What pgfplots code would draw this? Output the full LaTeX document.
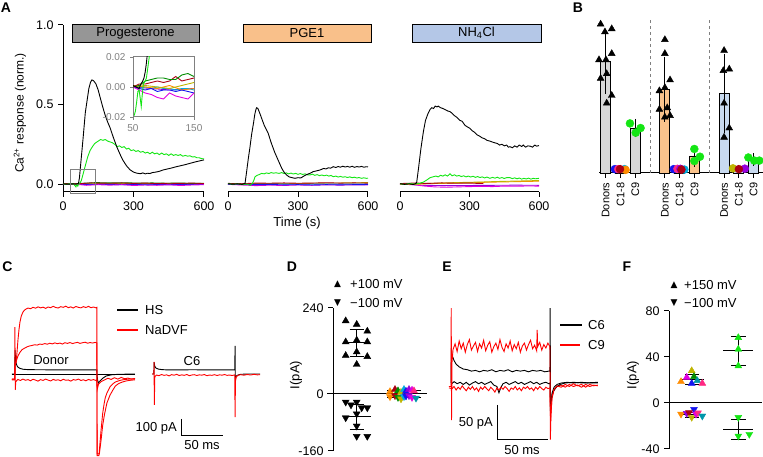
\documentclass[border=0pt]{standalone}
\usepackage{fontspec}
\setmainfont{Liberation Sans}
\newfontfamily\sym{DejaVu Sans}
\usepackage{pgfplots}
\pgfplotsset{compat=1.18}
\definecolor{lime}{RGB}{20,230,20}
\definecolor{dkgreen}{RGB}{0,140,0}
\definecolor{dkred}{RGB}{170,0,20}
\definecolor{mag}{RGB}{225,0,225}
\definecolor{purp}{RGB}{150,0,220}
\definecolor{cblue}{RGB}{20,20,240}
\definecolor{ccyan}{RGB}{0,170,220}
\definecolor{corange}{RGB}{255,140,0}
\definecolor{olive2}{RGB}{190,180,0}
\definecolor{pink2}{RGB}{255,40,130}
\definecolor{teal2}{RGB}{0,150,170}
\definecolor{boxgray}{RGB}{150,150,150}
\definecolor{boxorange}{RGB}{249,192,138}
\definecolor{boxblue}{RGB}{180,199,231}
\definecolor{bargray}{RGB}{215,215,215}
\definecolor{barorange}{RGB}{250,195,140}
\definecolor{barblue}{RGB}{200,218,240}
\pgfplotsset{
  every axis/.append style={scale only axis, anchor=south west, clip=false,
    axis line style={-, line width=1pt},
    tick style={line width=1pt, black},
    tick align=outside, major tick length=5pt,
    tick label style={font=\fontsize{12.5}{14}\selectfont},
    /pgf/number format/assume math mode=true},
  tr/.style={line width=0.9pt, mark=none},
  up/.style={only marks, mark=triangle*, mark size=4pt},
  dn/.style={only marks, mark=triangle*, mark size=4pt, mark options={rotate=180}},
  dot/.style={only marks, mark=*, mark size=4pt},
  eb/.style={black, line width=1pt, mark=none},
}
\begin{document}
\fontsize{13}{15}\selectfont
\begin{tikzpicture}
% ================= A1 =================
\begin{axis}[at={(63pt,265pt)}, width=141pt, height=167pt,
  xmin=0, xmax=600, ymin=-0.05, ymax=1,
  axis x line*=bottom, axis y line*=left, xtick pos=left, ytick pos=left,
  xtick={0,300,600}, ytick={0,0.5,1},
  yticklabel style={/pgf/number format/fixed, /pgf/number format/fixed zerofill, /pgf/number format/precision=1}]
\addplot[tr, olive2] coordinates {(0,0) (90,0) (150,0.003) (210,0.002) (270,0.004) (330,0.002) (390,0.003) (450,0.001) (510,0.003) (600,0.002)};
\addplot[tr, corange] coordinates {(0,0.001) (70,0) (130,-0.002) (190,0.001) (250,-0.001) (310,0.002) (370,0) (430,0.001) (490,-0.001) (550,0.001) (600,0)};
\addplot[tr, ccyan] coordinates {(0,0.001) (60,-0.001) (120,-0.002) (180,0) (240,-0.002) (300,-0.001) (360,-0.003) (420,-0.001) (480,-0.002) (540,0) (600,-0.001)};
\addplot[tr, cblue] coordinates {(0,0) (70,-0.002) (120,-0.003) (180,-0.002) (240,-0.004) (300,-0.003) (360,-0.005) (420,-0.003) (480,-0.004) (540,-0.002) (600,-0.003)};
\addplot[tr, mag] coordinates {(0,0) (60,-0.002) (100,-0.008) (150,-0.004) (200,-0.007) (250,-0.004) (300,-0.009) (350,-0.006) (400,-0.008) (450,-0.005) (500,-0.009) (550,-0.006) (600,-0.004)};
\addplot[tr, dkgreen] coordinates {(0,0) (50,0) (70,0.004) (100,0.006) (140,0.009) (200,0.007) (260,0.008) (320,0.006) (380,0.007) (440,0.005) (500,0.006) (560,0.004) (600,0.005)};
\addplot[tr, dkred] coordinates {(0,0.003) (50,0.001) (70,0.002) (90,0.004) (120,0.007) (150,0.006) (200,0.005) (250,0.007) (300,0.004) (350,0.006) (400,0.003) (450,0.005) (500,0.004) (550,0.006) (600,0.003)};
\addplot[tr, lime] coordinates {(0,0.002) (15,-0.002) (30,0.003) (45,0.0) (55,-0.018) (58,-0.003) (63,-0.013) (67,0.002) (72,0.006) (78,0.022) (85,0.06) (94,0.11) (105,0.17) (115,0.21) (123,0.23) (135,0.255) (150,0.27) (160,0.28) (170,0.275) (180,0.28) (190,0.27) (200,0.265) (210,0.26) (220,0.25) (230,0.235) (240,0.24) (250,0.23) (260,0.235) (270,0.22) (280,0.225) (290,0.21) (300,0.215) (310,0.205) (320,0.21) (330,0.2) (340,0.205) (350,0.195) (360,0.2) (370,0.19) (380,0.2) (390,0.19) (400,0.195) (410,0.185) (420,0.195) (430,0.185) (440,0.19) (450,0.18) (460,0.19) (470,0.18) (480,0.185) (490,0.18) (500,0.185) (510,0.175) (520,0.18) (530,0.175) (540,0.178) (550,0.17) (560,0.172) (570,0.165) (580,0.165) (590,0.16) (600,0.158)};
\addplot[tr, black] coordinates {(0,0.001) (20,-0.001) (40,0.001) (55,0) (62,0.002) (66,0.005) (70,0.04) (75,0.12) (80,0.2) (85,0.28) (95,0.45) (103,0.53) (110,0.6) (117,0.64) (123,0.655) (130,0.65) (140,0.63) (150,0.59) (157,0.55) (170,0.48) (180,0.43) (190,0.39) (200,0.355) (215,0.29) (230,0.23) (245,0.18) (255,0.15) (270,0.115) (285,0.09) (300,0.075) (315,0.068) (330,0.065) (340,0.07) (350,0.064) (360,0.068) (370,0.066) (380,0.072) (395,0.075) (410,0.08) (425,0.088) (442,0.094) (460,0.1) (480,0.108) (500,0.115) (520,0.122) (540,0.13) (560,0.138) (580,0.145) (600,0.152)};
\draw[gray, line width=1pt] (axis cs:34,-0.057) rectangle (axis cs:140,0.094);
\end{axis}
% ================= inset =================
\begin{axis}[at={(133pt,340pt)}, width=61pt, height=60pt, clip=true,
  xmin=50, xmax=150, ymin=-0.02, ymax=0.02,
  axis line style={gray, line width=1pt}, tick style={gray, line width=0.8pt},
  major tick length=3pt, xtick pos=left, ytick pos=left,
  xtick={50,150}, ytick={-0.02,0,0.02}, scaled y ticks=false,
  tick label style={gray, font=\fontsize{10}{12}\selectfont},
  yticklabel style={/pgf/number format/fixed, /pgf/number format/fixed zerofill, /pgf/number format/precision=2}]
\addplot[tr, purp] coordinates {(50,0) (80,-0.001) (110,-0.002) (150,-0.001)};
\addplot[tr, ccyan] coordinates {(50,0.001) (60,-0.001) (70,0) (80,-0.001) (90,0) (100,-0.001) (110,-0.001) (120,-0.002) (130,-0.001) (140,-0.001) (150,-0.002)};
\addplot[tr, corange] coordinates {(50,0.001) (70,0.0) (90,-0.001) (110,0.001) (130,-0.002) (150,-0.001)};
\addplot[tr, olive2] coordinates {(50,0) (70,0.001) (90,0.0) (110,-0.001) (130,0.001) (150,0.003)};
\addplot[tr, cblue] coordinates {(50,0) (60,-0.001) (70,-0.002) (80,-0.001) (90,-0.003) (100,-0.002) (110,-0.002) (120,-0.003) (130,-0.002) (140,-0.003) (150,-0.004)};
\addplot[tr, mag] coordinates {(50,0) (60,-0.002) (70,-0.004) (80,-0.005) (90,-0.007) (100,-0.008) (110,-0.004) (120,-0.006) (130,-0.007) (140,-0.008) (150,-0.004)};
\addplot[tr, dkred] coordinates {(50,0) (60,0.002) (70,0.002) (80,0.003) (90,0.004) (100,0.003) (110,0.004) (120,0.007) (130,0.004) (140,0.005) (150,0.006)};
\addplot[tr, dkgreen] coordinates {(50,0) (60,0.001) (70,0.004) (80,0.005) (90,0.006) (100,0.006) (110,0.005) (120,0.005) (130,0.008) (140,0.009) (150,0.007)};
\addplot[tr, black] coordinates {(50,0.001) (55,0.0) (60,-0.001) (63,0.002) (66,0.004) (68,0.006) (70,0.01) (72,0.016) (74,0.024) (76,0.04)};
\addplot[tr, lime] coordinates {(52,-0.019) (54,-0.016) (56,-0.01) (58,-0.003) (60,-0.002) (62,-0.008) (63.5,-0.013) (65,-0.006) (67,0.002) (70,0.004) (72,0.006) (74,0.012) (76,0.018) (78,0.024) (80,0.032)};
\end{axis}
% ================= A2 =================
\begin{axis}[at={(228pt,265pt)}, width=140pt, height=167pt,
  xmin=0, xmax=600, ymin=-0.05, ymax=1,
  axis x line*=bottom, axis y line=none, xtick pos=left, ytick=\empty,
  xtick={0,300,600}]
\addplot[tr, olive2] coordinates {(0,0) (100,0.002) (200,0.004) (300,0.003) (400,0.006) (500,0.007) (600,0.009)};
\addplot[tr, ccyan] coordinates {(0,0.001) (100,-0.001) (200,0.001) (300,-0.002) (400,0) (500,-0.001) (600,0)};
\addplot[tr, mag] coordinates {(0,-0.002) (60,-0.006) (120,-0.01) (180,-0.007) (240,-0.009) (300,-0.006) (360,-0.008) (420,-0.005) (480,-0.007) (540,-0.005) (600,-0.006)};
\addplot[tr, cblue] coordinates {(0,0) (60,-0.002) (120,-0.004) (180,-0.003) (240,-0.005) (300,-0.004) (360,-0.006) (420,-0.004) (480,-0.005) (540,-0.004) (600,-0.003)};
\addplot[tr, dkred] coordinates {(0,0.004) (60,0.002) (120,0.006) (180,0.005) (240,0.007) (300,0.005) (360,0.006) (420,0.008) (480,0.006) (540,0.007) (600,0.006)};
\addplot[tr, lime] coordinates {(0,0.003) (20,-0.002) (40,0.002) (60,-0.004) (80,0.0) (95,-0.008) (105,0.005) (110,0.02) (116,0.046) (125,0.055) (135,0.06) (144,0.067) (155,0.064) (165,0.07) (175,0.066) (185,0.072) (195,0.068) (205,0.071) (219,0.067) (230,0.072) (240,0.066) (250,0.07) (260,0.064) (270,0.069) (279,0.063) (290,0.067) (300,0.061) (310,0.066) (320,0.06) (330,0.064) (341,0.058) (351,0.057) (362,0.062) (372,0.055) (382,0.059) (392,0.053) (402,0.057) (412,0.052) (422,0.056) (432,0.05) (442,0.054) (451,0.046) (462,0.05) (472,0.044) (482,0.048) (492,0.043) (502,0.046) (512,0.041) (522,0.045) (532,0.04) (542,0.043) (552,0.038) (562,0.041) (572,0.036) (582,0.039) (594,0.036) (600,0.037)};
\addplot[tr, black] coordinates {(0,0.002) (20,-0.001) (40,0.001) (60,-0.002) (70,0.002) (73,0.004) (80,0.08) (87,0.16) (94,0.23) (101,0.31) (109,0.38) (115,0.44) (120,0.47) (123,0.48) (128,0.475) (135,0.45) (145,0.41) (155,0.37) (165,0.34) (172,0.32) (185,0.26) (200,0.2) (215,0.15) (230,0.1) (240,0.075) (251,0.057) (262,0.045) (275,0.04) (287,0.036) (300,0.04) (312,0.038) (325,0.05) (335,0.058) (345,0.064) (351,0.067) (365,0.078) (380,0.083) (394,0.088) (410,0.098) (420,0.095) (430,0.102) (440,0.1) (451,0.109) (462,0.104) (472,0.11) (482,0.106) (492,0.112) (502,0.107) (512,0.111) (522,0.106) (532,0.112) (542,0.105) (552,0.11) (562,0.107) (572,0.111) (582,0.106) (594,0.109) (600,0.108)};
\end{axis}
% ================= A3 =================
\begin{axis}[at={(400pt,265pt)}, width=139pt, height=167pt,
  xmin=0, xmax=600, ymin=-0.05, ymax=1,
  axis x line*=bottom, axis y line=none, xtick pos=left, ytick=\empty,
  xtick={0,300,600}]
\addplot[tr, purp] coordinates {(0,0) (100,-0.008) (200,-0.01) (300,-0.009) (400,-0.008) (500,-0.007) (600,-0.008)};
\addplot[tr, mag] coordinates {(0,0.002) (60,-0.004) (100,-0.012) (150,-0.018) (200,-0.02) (250,-0.018) (300,-0.016) (350,-0.015) (400,-0.016) (450,-0.013) (500,-0.014) (550,-0.012) (600,-0.013)};
\addplot[tr, corange] coordinates {(0,0) (60,-0.002) (120,0.002) (200,0.005) (300,0.009) (400,0.012) (500,0.015) (600,0.018)};
\addplot[tr, olive2] coordinates {(0,0.002) (60,0.0) (120,0.004) (180,0.006) (240,0.009) (300,0.011) (360,0.013) (420,0.016) (480,0.018) (540,0.02) (600,0.022)};
\addplot[tr, dkred] coordinates {(0,0.003) (60,0.006) (120,0.004) (180,0.007) (240,0.005) (300,0.006) (360,0.003)};
\addplot[tr, lime] coordinates {(0,0.002) (20,-0.003) (40,0.004) (60,0.0) (80,0.003) (90,0.008) (101,0.012) (115,0.025) (130,0.04) (144,0.046) (155,0.05) (165,0.045) (175,0.055) (185,0.05) (195,0.058) (205,0.05) (216,0.065) (225,0.052) (235,0.058) (245,0.05) (255,0.054) (265,0.047) (275,0.052) (285,0.045) (295,0.05) (305,0.044) (315,0.049) (325,0.042) (335,0.047) (345,0.041) (355,0.045) (365,0.038) (375,0.044) (388,0.036) (400,0.042) (410,0.037) (420,0.043) (430,0.036) (440,0.041) (450,0.035) (460,0.04) (475,0.04) (485,0.034) (495,0.039) (505,0.033) (515,0.038) (525,0.031) (535,0.036) (545,0.032) (555,0.037) (565,0.031) (575,0.036) (585,0.033) (600,0.036)};
\addplot[tr, black] coordinates {(0,0.002) (20,-0.002) (40,0.001) (55,-0.003) (65,0.0) (72,0.01) (80,0.1) (90,0.22) (101,0.33) (110,0.4) (120,0.44) (130,0.47) (137,0.48) (145,0.475) (152,0.49) (160,0.485) (165,0.49) (175,0.48) (185,0.475) (195,0.468) (205,0.46) (216,0.455) (225,0.445) (235,0.43) (245,0.42) (259,0.4) (268,0.395) (280,0.37) (290,0.36) (302,0.35) (312,0.335) (322,0.325) (332,0.31) (345,0.3) (355,0.29) (365,0.285) (375,0.275) (388,0.27) (395,0.266) (403,0.262) (412,0.258) (420,0.255) (430,0.245) (440,0.25) (450,0.24) (460,0.245) (468,0.232) (475,0.235) (485,0.228) (495,0.24) (505,0.232) (515,0.245) (525,0.236) (532,0.245) (542,0.232) (552,0.24) (562,0.238) (572,0.232) (582,0.245) (590,0.238) (600,0.242)};
\end{axis}
% ================= B =================
\begin{axis}[at={(599pt,284pt)}, width=164pt, height=155pt,
  xmin=-0.45, xmax=10.63, ymin=0, ymax=1,
  axis x line*=bottom, axis y line=none, xtick pos=left, ytick=\empty,
  xtick={0,1,2,4,5,6,8,9,10},
  xticklabels={Donors,C1-8,C9,Donors,C1-8,C9,Donors,C1-8,C9},
  xticklabel style={rotate=90, anchor=east, font=\fontsize{11}{13}\selectfont}]
\addplot[gray, dashed, line width=0.8pt] coordinates {(3,0) (3,1)};
\addplot[gray, dashed, line width=0.8pt] coordinates {(7,0) (7,1)};
\addplot[ybar, bar width=0.676, fill=bargray, draw=black, line width=0.8pt,
  error bars/.cd, y dir=both, y explicit, error bar style={line width=1pt},
  error mark options={mark size=4.5pt, line width=1pt}]
  coordinates {(0,0.72) +- (0,0.18) (1,0.02) +- (0,0) (2,0.29) +- (0,0.03)};
\addplot[ybar, bar width=0.676, fill=barorange, draw=black, line width=0.8pt,
  error bars/.cd, y dir=both, y explicit, error bar style={line width=1pt},
  error mark options={mark size=4.5pt, line width=1pt}]
  coordinates {(4,0.54) +- (0,0.18) (5,0.02) +- (0,0) (6,0.11) +- (0,0.04)};
\addplot[ybar, bar width=0.676, fill=barblue, draw=black, line width=0.8pt,
  error bars/.cd, y dir=both, y explicit, error bar style={line width=1pt},
  error mark options={mark size=4.5pt, line width=1pt}]
  coordinates {(8,0.515) +- (0,0.225) (9,0.02) +- (0,0) (10,0.087) +- (0,0.012)};
\addplot[up, black] coordinates {(-0.34,0.96) (0.41,0.93) (-0.05,0.91) (0.41,0.77) (-0.45,0.73) (0.02,0.73) (-0.34,0.61) (0.07,0.64) (0.41,0.50) (0.07,0.45)};
\addplot[up, black] coordinates {(4.0,0.86) (4.0,0.77) (4.35,0.60) (3.63,0.53) (4.0,0.55) (3.63,0.41) (4.16,0.42) (4.0,0.36) (4.35,0.37)};
\addplot[up, black] coordinates {(8.0,0.79) (7.95,0.66) (8.35,0.67) (8.0,0.45) (8.35,0.29) (8.0,0.23)};
\addplot[dot, lime] coordinates {(1.64,0.32) (2.36,0.29) (2.03,0.26) (5.99,0.155) (6.37,0.105) (5.99,0.077) (9.64,0.10) (10.04,0.08) (10.38,0.08)};
\addplot[dot, cblue] coordinates {(0.62,0.025) (4.6,0.025)};
\addplot[dot, pink2] coordinates {(0.85,0.025) (4.85,0.027)};
\addplot[dot, ccyan] coordinates {(1.28,0.025) (5.32,0.022)};
\addplot[dot, corange] coordinates {(1.35,0.02)};
\addplot[dot, purp] coordinates {(5.05,0.027) (9.4,0.028)};
\addplot[dot, olive2] coordinates {(8.6,0.03)};
\addplot[dot, dkred] coordinates {(0.97,0.025) (5.12,0.022) (9.0,0.025)};
\end{axis}
% ================= C =================
\begin{axis}[at={(10pt,0pt)}, width=260pt, height=167pt, hide axis,
  xmin=-2.38, xmax=307.1, ymin=-488.2, ymax=494.1]
\addplot[tr, black] coordinates {(0,0) (146.4,0)};
\addplot[tr, black] coordinates {(0,0) (3.3,0) (3.6,140) (4.2,90) (4.8,65) (6,48) (7.1,40) (9.5,33) (13,28) (18,26) (30,25) (60,24) (101,24) (101.3,-10) (102,-40) (103,-53) (105,-40) (108,-25) (112,-12) (118,-5) (126,-2) (146.4,0)};
\addplot[tr, red] coordinates {(0,-30) (3.2,-30) (3.6,60) (4.8,65) (6,130) (7.1,200) (8.3,260) (9.5,306) (11,340) (13.1,365) (15,376) (16.7,382) (19,388) (22,384) (25,392) (28,387) (31,395) (34,389) (37,393) (40,386) (43,394) (46,390) (49,398) (52,391) (55,388) (58,396) (61,392) (64,399) (67,390) (70,395) (73,388) (76,397) (79,392) (82,389) (85,396) (88,391) (91,398) (94,390) (97,394) (100,389) (101,392) (101.3,-480) (103.5,-480) (104.5,-420) (106,-330) (108,-230) (109.5,-180) (111,-140) (113,-112) (116.7,-75) (120,-58) (123,-47) (127,-40) (131,-35) (135,-32) (139,-30) (143,-28) (146.4,-30)};
\addplot[tr, red] coordinates {(0,-30) (3.2,-30) (3.6,50) (4.8,71) (6,90) (7.1,106) (9.5,128) (12,143) (15,152) (18,160) (21,165) (24,168) (27,172) (30,170) (33,176) (36,174) (39,179) (42,175) (45,181) (48,177) (51,183) (54,178) (57,182) (60,176) (63,184) (66,180) (69,185) (72,179) (75,183) (78,186) (81,180) (84,184) (87,187) (90,181) (93,185) (96,182) (99,186) (101,183) (101.3,-470) (104,-470) (106,-390) (108,-300) (110,-240) (113,-170) (116.7,-124) (120,-95) (123,-71) (127,-56) (131,-48) (135,-42) (139,-38) (143,-36) (146.4,-34)};
\addplot[tr, red] coordinates {(0,-35) (3.2,-35) (3.5,276) (3.9,-94) (4.5,-45) (7,-32) (10,-38) (13,-30) (16,-37) (19,-33) (22,-40) (25,-31) (28,-36) (31,-42) (34,-33) (37,-38) (40,-30) (43,-36) (46,-41) (49,-32) (52,-37) (55,-34) (58,-40) (61,-31) (64,-37) (67,-35) (70,-42) (73,-33) (76,-36) (79,-30) (82,-38) (85,-34) (88,-40) (91,-32) (94,-37) (97,-33) (100,-38) (101,-35) (101.5,-90) (103,-60) (106,-45) (110,-35) (114,-25) (118,-32) (122,-22) (126,-30) (130,-20) (134,-28) (138,-24) (142,-31) (146.4,-26)};
\addplot[tr, black] coordinates {(166.7,0) (168.9,0) (169.1,70) (170,45) (171.4,35) (174,29) (178,26) (185,24) (200,24) (215,25) (230,24) (250,24) (265.2,24) (265.5,165) (265.8,-20) (267,-12) (269,-6) (272,-2) (280,0) (295.2,0)};
\addplot[tr, red] coordinates {(166.7,0) (168.9,0) (169.1,71) (169.4,-182) (170,-15) (172,-6) (175,-10) (178,-3) (181,-8) (184,-5) (187,-11) (190,-4) (193,-7) (196,-2) (199,-9) (202,-5) (205,-8) (208,-3) (211,-10) (214,-6) (217,-4) (220,-9) (223,-5) (226,-7) (229,-3) (232,-10) (235,-6) (238,-8) (241,-4) (244,-9) (247,-5) (250,-7) (253,-3) (256,-8) (259,-6) (262,-9) (265.2,-5) (265.5,-253) (266,-40) (267,-18) (269,-8) (272,-4) (276,-7) (280,-3) (284,-6) (288,-2) (292,-5) (295.2,-4)};
\addplot[eb] coordinates {(201.2,-264.7) (201.2,-364.7) (251.2,-364.7)};
\end{axis}
% ================= D =================
\begin{axis}[at={(333pt,6pt)}, width=94pt, height=143pt,
  xmin=0, xmax=94, ymin=-160, ymax=240,
  axis y line*=left, axis x line=none, xtick=\empty, ytick pos=left,
  ytick={-160,0,240}]
\addplot[black, line width=1pt, mark=none] coordinates {(-6,0) (94,0)};
\addplot[eb] coordinates {(11.7,143) (35.7,143)};
\addplot[eb] coordinates {(16.7,180) (30.7,180)};
\addplot[eb] coordinates {(16.7,105) (30.7,105)};
\addplot[eb] coordinates {(23.7,105) (23.7,180)};
\addplot[eb] coordinates {(9.7,-64) (37.7,-64)};
\addplot[eb] coordinates {(16.7,-30) (30.7,-30)};
\addplot[eb] coordinates {(16.7,-100) (30.7,-100)};
\addplot[eb] coordinates {(23.7,-30) (23.7,-100)};
\addplot[up, black] coordinates {(12.7,204) (23.7,194) (34.3,175) (12.7,145) (23.7,150) (34.3,145) (12.7,107) (23.7,117) (34.3,104) (23.7,82)};
\addplot[dn, black] coordinates {(12.7,-23) (18,-31) (23.7,-23) (28.7,-39) (34.3,-39) (12.7,-67) (23.7,-56) (23.7,-90) (23.7,-119) (34.3,-119)};
\addplot[eb, line width=0.8pt] coordinates {(54,10) (88,10)};
\addplot[eb, line width=0.8pt] coordinates {(54,-10) (88,-10)};
\addplot[up, corange] coordinates {(57,6)};
\addplot[dn, corange] coordinates {(57,-8)};
\addplot[up, dkred] coordinates {(62,12)};
\addplot[dn, dkred] coordinates {(62,-5)};
\addplot[up, dkgreen] coordinates {(65,8)};
\addplot[dn, dkgreen] coordinates {(65,-10)};
\addplot[up, olive2] coordinates {(68,4)};
\addplot[dn, olive2] coordinates {(68,-14)};
\addplot[up, ccyan] coordinates {(71,12)};
\addplot[dn, ccyan] coordinates {(71,-8)};
\addplot[up, cblue] coordinates {(73,7)};
\addplot[dn, cblue] coordinates {(73,-6)};
\addplot[up, purp] coordinates {(76,12)};
\addplot[dn, purp] coordinates {(76,-5)};
\addplot[up, mag] coordinates {(79,10)};
\addplot[dn, mag] coordinates {(79,-10)};
\addplot[up, pink2] coordinates {(81,8)};
\addplot[dn, teal2] coordinates {(83,-12)};
\end{axis}
% ================= E =================
\begin{axis}[at={(440pt,0pt)}, width=160pt, height=157pt, hide axis,
  xmin=-10.8, xmax=146.1, ymin=-105.7, ymax=118.6]
\addplot[tr, black] coordinates {(0,-2) (3,2) (6,-1) (9,1) (12,-2) (15,1) (18,-3) (21,0) (24,2) (27,-1) (30,1) (33,-2) (36,0) (39,2) (42,-3) (45,-5) (47,-14) (49,-6) (51,-1) (54,1) (57,-2) (60,0) (63,2) (66,-1) (69,1) (72,-2) (75,0) (78,2) (81,-1) (84,1) (87,-2) (90,0) (93,1) (96,-1) (97,0) (97.5,-40) (99,-15) (101,-6) (104,-2) (108,0) (114,1) (120,0) (128,1) (136,0) (144,0)};
\addplot[tr, red] coordinates {(-2,-7) (1,-8) (3,-5) (5,-10) (7,-6) (9,-9) (11,-4) (13,-8) (15,-11) (17,-6) (19,-9) (21,-5) (23,-10) (25,-7) (27,-12) (29,-6) (31,-9) (33,-5) (35,-8) (37,-11) (39,-6) (41,-9) (43,-13) (45,-7) (47,-10) (49,-6) (51,-9) (53,-5) (55,-8) (57,-12) (59,-7) (61,-9) (63,-5) (65,-10) (67,-7) (69,-11) (71,-6) (73,-8) (75,-5) (77,-9) (79,-7) (81,-11) (83,-6) (85,-9) (87,-5) (89,-8) (91,-10) (93,-6) (95,-8) (97,-7) (97.6,-55) (99,-22) (101,-10) (104,-5) (108,-3) (112,-6) (116,-2) (120,-5) (124,-3) (128,-6) (132,-2) (136,-5) (140,-3) (144,-4)};
\addplot[tr, black] coordinates {(0,0) (0.3,50) (1,40) (3,32) (5,27) (8,23) (12,20) (16,19) (20,17) (24,18) (28,16) (32,18) (36,17) (40,19) (44,16) (48,18) (52,17) (56,19) (60,16) (64,18) (68,17) (72,18) (76,16) (80,18) (84,17) (88,18) (92,16) (96,17) (97,17) (97.2,107) (97.6,-30) (98.5,-22) (100,-13) (103,-6) (107,-2) (112,0) (120,1) (130,0) (144,1)};
\addplot[tr, red] coordinates {(-2,-5) (0,-5) (0.2,107) (0.5,-53) (1,30) (2,48) (4,56) (6,45) (8,60) (10,49) (12,57) (14,44) (16,55) (18,62) (20,47) (22,53) (24,58) (26,45) (28,56) (30,50) (32,61) (34,46) (36,54) (38,59) (40,44) (42,52) (44,57) (46,48) (48,62) (50,51) (52,45) (54,56) (56,50) (58,60) (60,46) (62,55) (64,49) (66,58) (68,44) (70,53) (72,57) (74,47) (76,55) (78,61) (80,49) (82,54) (84,46) (84.5,76) (85,52) (87,58) (89,47) (91,55) (93,50) (95,57) (97,52) (97.4,-81) (98,-45) (99,-20) (101,-9) (104,-4) (108,-6) (112,-2) (116,-5) (120,-1) (124,-4) (128,-2) (132,-6) (136,-2) (140,-4) (144,-3)};
\addplot[eb] coordinates {(45.1,-31.4) (45.1,-81.4) (95.1,-81.4)};
\end{axis}
% ================= F =================
\begin{axis}[at={(669pt,8pt)}, width=93pt, height=138pt,
  xmin=0, xmax=93, ymin=-40, ymax=80,
  axis y line*=left, axis x line=none, xtick=\empty, ytick pos=left,
  ytick={-40,0,40,80}]
\addplot[black, line width=1pt, mark=none] coordinates {(0,0) (93,0)};
\addplot[eb] coordinates {(11,20.7) (35,20.7)};
\addplot[eb] coordinates {(16,25) (30,25)};
\addplot[eb] coordinates {(16,16.5) (30,16.5)};
\addplot[eb] coordinates {(11,-10.4) (35,-10.4)};
\addplot[eb] coordinates {(16,-8.3) (30,-8.3)};
\addplot[eb] coordinates {(16,-12.4) (30,-12.4)};
\addplot[up, corange] coordinates {(12,18.5)};
\addplot[up, mag] coordinates {(17.7,22.3)};
\addplot[up, olive2] coordinates {(22.7,28)};
\addplot[up, dkgreen] coordinates {(25,22.9)};
\addplot[up, cblue] coordinates {(22.7,17)};
\addplot[up, teal2] coordinates {(28.3,19.4)};
\addplot[up, pink2] coordinates {(33.3,17.1)};
\addplot[dn, cblue] coordinates {(25,-5.5)};
\addplot[dn, corange] coordinates {(12,-9.6)};
\addplot[dn, purp] coordinates {(17.7,-9)};
\addplot[dn, dkred] coordinates {(20,-8.4)};
\addplot[dn, olive2] coordinates {(22.7,-12.4)};
\addplot[dn, mag] coordinates {(27,-9.6)};
\addplot[dn, pink2] coordinates {(29,-8.5)};
\addplot[dn, teal2] coordinates {(33.3,-11.3)};
\addplot[eb] coordinates {(54,45.5) (84,45.5)};
\addplot[eb] coordinates {(62,57.5) (77,57.5)};
\addplot[eb] coordinates {(62,33) (77,33)};
\addplot[eb] coordinates {(69.3,33) (69.3,57.5)};
\addplot[eb] coordinates {(54,-22.8) (84,-22.8)};
\addplot[eb] coordinates {(62,-14.5) (77,-14.5)};
\addplot[eb] coordinates {(62,-31.5) (77,-31.5)};
\addplot[eb] coordinates {(69.3,-14.5) (69.3,-31.5)};
\addplot[up, lime] coordinates {(69.3,56.8) (69.3,46.7) (69.3,32.2)};
\addplot[dn, lime] coordinates {(69.3,-12.5) (69.3,-28.7) (80.3,-27.2)};
\end{axis}
% ================= texts =================
\begin{scope}[every node/.style={inner sep=0pt}]
\node[font=\fontsize{14}{16}\selectfont\bfseries] at (6pt,449pt) {A};
\node[font=\fontsize{14}{16}\selectfont\bfseries] at (578pt,449pt) {B};
\node[font=\fontsize{14}{16}\selectfont\bfseries] at (7.5pt,190pt) {C};
\node[font=\fontsize{14}{16}\selectfont\bfseries] at (292pt,190pt) {D};
\node[font=\fontsize{14}{16}\selectfont\bfseries] at (447pt,190pt) {E};
\node[font=\fontsize{14}{16}\selectfont\bfseries] at (627pt,190pt) {F};
\node[draw=black, line width=0.8pt, fill=boxgray, minimum width=127pt, minimum height=18pt] at (135.5pt,424pt) {Progesterone};
\node[draw=black, line width=0.8pt, fill=boxorange, minimum width=128pt, minimum height=18pt] at (307pt,424pt) {PGE1};
\node[draw=black, line width=0.8pt, fill=boxblue, minimum width=129pt, minimum height=18pt] at (476.5pt,424pt) {NH\textsubscript{4}Cl};
\node[rotate=90, font=\fontsize{12}{14}\selectfont] at (20pt,344pt) {Ca\textsuperscript{2+} response (norm.)};
\node at (297pt,234pt) {Time (s)};
\node at (51pt,97pt) {Donor};
\node at (192pt,96pt) {C6};
\node[anchor=east] at (177pt,29pt) {100 pA};
\node at (202pt,12pt) {50 ms};
\draw[black, line width=1.2pt] (117pt,147pt) -- (138pt,147pt);
\node[anchor=west] at (145pt,147pt) {HS};
\draw[red, line width=1.2pt] (117pt,127pt) -- (138pt,127pt);
\node[anchor=west] at (145pt,127pt) {NaDVF};
\node[font=\sym\fontsize{9}{10}\selectfont] at (337.5pt,173pt) {▲};
\node[anchor=west] at (350pt,173pt) {+100 mV};
\node[font=\sym\fontsize{9}{10}\selectfont] at (337.5pt,154pt) {▼};
\node[anchor=west] at (350pt,154pt) {−100 mV};
\node[rotate=90] at (296pt,82pt) {I(pA)};
\draw[black, line width=1.2pt] (560pt,132pt) -- (582pt,132pt);
\node[anchor=west] at (588pt,132pt) {C6};
\draw[red, line width=1.2pt] (560pt,112pt) -- (580pt,112pt);
\node[anchor=west] at (588pt,112pt) {C9};
\node[anchor=east] at (493pt,34pt) {50 pA};
\node at (522pt,7pt) {50 ms};
\node[font=\sym\fontsize{9}{10}\selectfont] at (674pt,172pt) {▲};
\node[anchor=west] at (684pt,172pt) {+150 mV};
\node[font=\sym\fontsize{9}{10}\selectfont] at (674pt,154pt) {▼};
\node[anchor=west] at (684pt,154pt) {−100 mV};
\node[rotate=90] at (633pt,82pt) {I(pA)};
\end{scope}
\pgfresetboundingbox
\path[use as bounding box] (0pt,0pt) rectangle (763pt,457pt);
\end{tikzpicture}
\end{document}
